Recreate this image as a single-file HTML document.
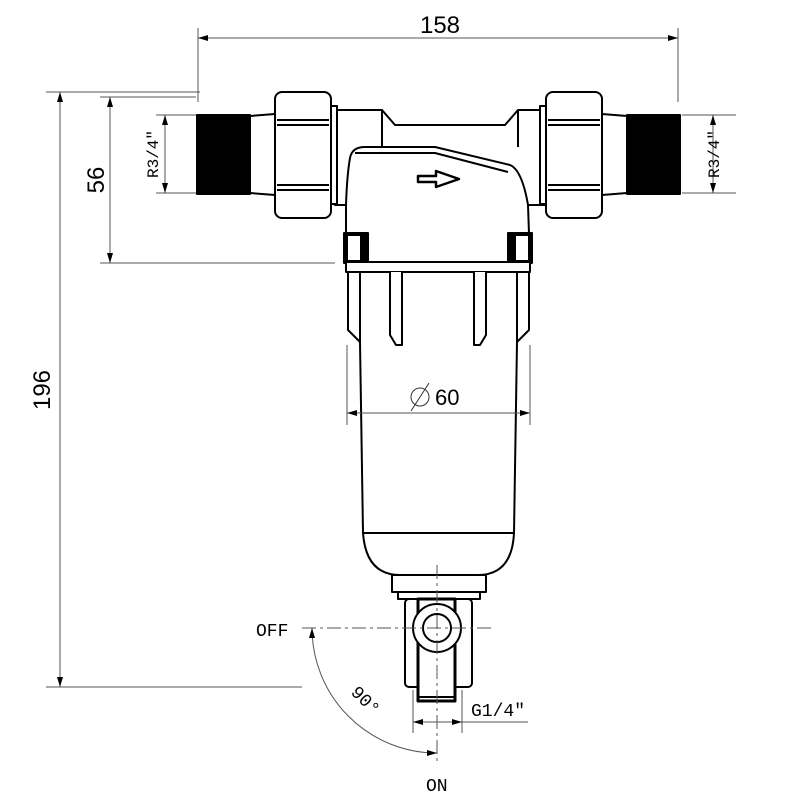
<!DOCTYPE html>
<html><head><style>body{margin:0;background:#fff}svg{display:block}</style></head><body>
<svg width="800" height="800" viewBox="0 0 800 800" xmlns="http://www.w3.org/2000/svg" font-family="Liberation Sans, sans-serif">
<defs>
<marker id="a" viewBox="0 0 10 6" refX="10" refY="3" markerWidth="12" markerHeight="6" orient="auto-start-reverse" markerUnits="userSpaceOnUse"><path d="M0,0 L10,3 L0,6 Z" fill="#000"/></marker>
</defs>
<g stroke="#000" stroke-width="2" fill="#fff" stroke-linejoin="round">
<!-- threads -->
<rect x="197" y="115" width="53" height="79" fill="#000"/>
<rect x="627" y="115" width="53" height="79" fill="#000"/>
<path d="M250,116 L275,114 L275,195 L250,193 Z"/>
<path d="M602,114 L627,116 L627,193 L602,195 Z"/>
<!-- pipe -->
<path d="M335,110 L382,110 L395,125 L505,125 L518,110 L545,110 L545,205 L335,205 Z"/>
<line x1="382" y1="110" x2="382" y2="147"/><line x1="518" y1="110" x2="518" y2="147"/>
<!-- head -->
<path d="M346,262 L346,205 Q347,175 350,158 Q352,147 365,147 L435,147 L510,165 Q522,170 528,205 L530,262 Z"/>
<path d="M355,153 L435,153 L508,172" fill="none"/>
<rect x="344" y="233" width="24" height="30" fill="#000"/>
<rect x="508" y="233" width="24" height="30" fill="#000"/>
<rect x="348" y="236" width="12" height="24" fill="#fff" stroke="none"/>
<rect x="516" y="236" width="12" height="24" fill="#fff" stroke="none"/>
<!-- nuts -->
<rect x="275" y="92" width="56" height="126" rx="7"/>
<line x1="277" y1="120" x2="329" y2="120"/><line x1="277" y1="125" x2="329" y2="125"/>
<line x1="277" y1="185" x2="329" y2="185"/><line x1="277" y1="190" x2="329" y2="190"/>
<rect x="546" y="92" width="56" height="126" rx="7"/>
<line x1="548" y1="120" x2="600" y2="120"/><line x1="548" y1="125" x2="600" y2="125"/>
<line x1="548" y1="185" x2="600" y2="185"/><line x1="548" y1="190" x2="600" y2="190"/>
<rect x="331" y="106" width="6" height="98"/><rect x="540" y="106" width="6" height="98"/>
<!-- arrow -->
<path d="M418,176 L436,176 L436,171 L459,179 L436,187 L436,182 L418,182 Z" stroke-width="2.5"/>
<!-- band -->
<rect x="346" y="262" width="184" height="10"/>
<!-- bowl -->
<path d="M348,272 L348,330 L360,342 L363,533 Q366,575 400,575 L478,575 Q512,575 514,533 L517,342 L529,330 L529,272 Z"/>
<line x1="363" y1="533" x2="514" y2="533"/>
<line x1="360" y1="342" x2="360" y2="272"/><line x1="517" y1="342" x2="517" y2="272"/>
<path d="M390,272 L390,335 L396,345 L402,345 L402,272"/>
<path d="M474,272 L474,345 L480,345 L486,335 L486,272"/>
<!-- bottom -->
<rect x="392" y="575" width="94" height="17"/>
<rect x="398" y="592" width="82" height="7"/>
<rect x="405" y="599" width="67" height="88" rx="4"/>
<rect x="418" y="599" width="37" height="102" stroke-width="3"/>
<line x1="418" y1="697" x2="455" y2="697"/>
<circle cx="437" cy="628" r="24"/>
<circle cx="437" cy="628" r="14"/>
</g>
<g stroke="#555" stroke-width="1" fill="none">
<line x1="198" y1="28" x2="198" y2="102"/><line x1="678" y1="28" x2="678" y2="102"/>
<line x1="198" y1="38" x2="678" y2="38" marker-start="url(#a)" marker-end="url(#a)"/>
<line x1="46" y1="92" x2="200" y2="92"/><line x1="46" y1="687" x2="302" y2="687"/>
<line x1="60" y1="92" x2="60" y2="687" marker-start="url(#a)" marker-end="url(#a)"/>
<line x1="100" y1="97" x2="196" y2="97"/><line x1="100" y1="263" x2="335" y2="263"/>
<line x1="110" y1="97" x2="110" y2="263" marker-start="url(#a)" marker-end="url(#a)"/>
<line x1="156" y1="115" x2="196" y2="115"/><line x1="156" y1="193" x2="196" y2="193"/>
<line x1="165" y1="115" x2="165" y2="193" marker-start="url(#a)" marker-end="url(#a)"/>
<line x1="682" y1="115" x2="736" y2="115"/><line x1="682" y1="193" x2="736" y2="193"/>
<line x1="713" y1="115" x2="713" y2="193" marker-start="url(#a)" marker-end="url(#a)"/>
<line x1="347" y1="345" x2="347" y2="425"/><line x1="530" y1="345" x2="530" y2="425"/>
<line x1="347" y1="413" x2="530" y2="413" marker-start="url(#a)" marker-end="url(#a)"/>
<line x1="413" y1="690" x2="413" y2="733"/><line x1="462" y1="690" x2="462" y2="733"/>
<line x1="413" y1="722" x2="462" y2="722" marker-start="url(#a)" marker-end="url(#a)"/>
<line x1="462" y1="722" x2="528" y2="722"/>
<line x1="302" y1="628" x2="492" y2="628" stroke-dasharray="14,4,3,4"/>
<line x1="437" y1="565" x2="437" y2="765" stroke-dasharray="14,4,3,4"/>
<path d="M312,628 A125,125 0 0 0 437,753" marker-start="url(#a)" marker-end="url(#a)"/>
</g>
<g fill="#000" font-size="24">
<text x="440" y="33" text-anchor="middle">158</text>
<text transform="translate(50,390) rotate(-90)" text-anchor="middle">196</text>
<text transform="translate(104,180) rotate(-90)" text-anchor="middle">56</text>
<text x="435" y="405" font-size="22">60</text>
</g>
<circle cx="420" cy="397" r="9" fill="none" stroke="#333"/><line x1="411" y1="411" x2="429" y2="383" stroke="#333"/>
<g fill="#000" font-family="Liberation Mono, monospace" font-size="18">
<text transform="translate(158,154) rotate(-90)" text-anchor="middle" font-size="16">R3/4"</text>
<text transform="translate(719,154) rotate(-90)" text-anchor="middle" font-size="16">R3/4"</text>
<text x="256" y="636">OFF</text>
<text x="426" y="791">ON</text>
<text x="471" y="716">G1/4"</text>
<text transform="translate(350,693) rotate(45)">90°</text>
</g>
</svg>
</body></html>
